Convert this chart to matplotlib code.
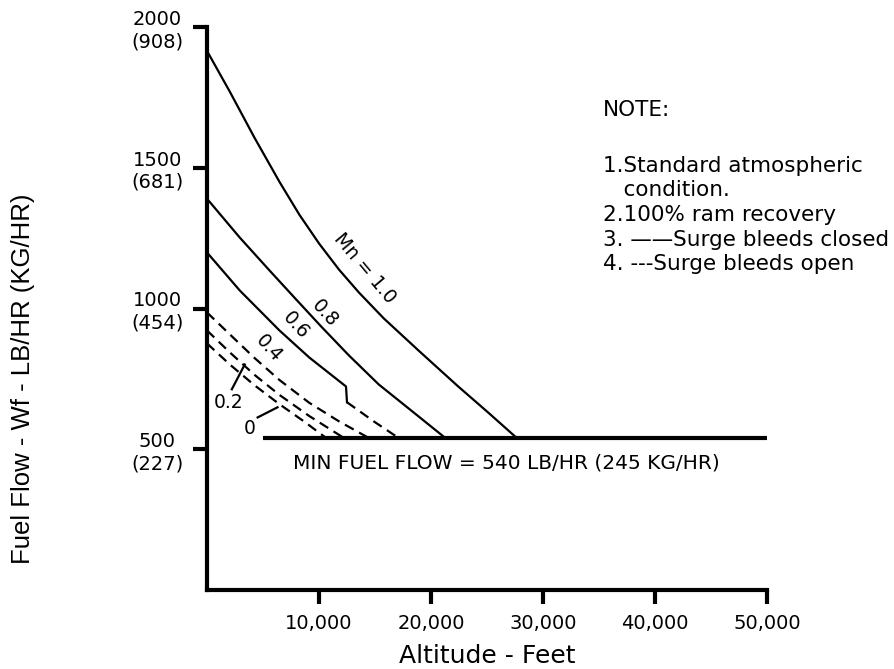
import matplotlib
matplotlib.use('Agg')
import matplotlib.pyplot as plt

# ---------------- data ----------------
# Solid lines: surge bleeds closed
alt_mn10 = [0, 2040, 4250, 6470, 8250, 10020, 11790, 13560, 15780, 18880, 22430, 25090, 27660]
wf_mn10 = [1915, 1770, 1606, 1450, 1333, 1230, 1138, 1057, 965, 851, 723, 631, 540]

alt_mn08 = [0, 2925, 5585, 7800, 10195, 12680, 15340, 18440, 21280]
wf_mn08 = [1390, 1252, 1135, 1039, 936, 833, 730, 631, 540]

alt_mn06_solid = [0, 2925, 6470, 9130, 12060, 12410, 12500]
wf_mn06_solid = [1199, 1064, 922, 826, 734, 723, 667]
alt_mn06_dash = [12500, 14890, 17110]
wf_mn06_dash = [667, 599, 540]

# Dashed lines: surge bleeds open
alt_mn04 = [0, 2040, 4250, 6470, 9130, 11790, 14450]
wf_mn04 = [986, 908, 824, 746, 665, 599, 540]

alt_mn02 = [0, 2040, 4250, 6470, 9130, 12230]
wf_mn02 = [922, 844, 764, 693, 618, 540]

alt_mn00 = [0, 2040, 4250, 6470, 8690, 10640]
wf_mn00 = [876, 801, 727, 660, 598, 540]

min_ff_alt = [5000, 50000]
min_ff_wf = [540, 540]

x_ticks = [10000, 20000, 30000, 40000, 50000]
x_ticklabels = ['10,000', '20,000', '30,000', '40,000', '50,000']
y_ticks = [500, 1000, 1500, 2000]
y_ticklabels = ['500\n(227)', '1000\n(454)', '1500\n(681)', '2000\n(908)']

notes = ['1.Standard atmospheric', '   condition.', '2.100% ram recovery',
         '3. \u2014\u2014Surge bleeds closed', '4. ---Surge bleeds open']

# ---------------- figure ----------------
W, H = 894, 669
fig = plt.figure(figsize=(W / 100, H / 100), dpi=100)
plt.rcParams['font.family'] = ['DejaVu Sans']

left, right, top, bottom = 207, 767, 27, 590
ax = fig.add_axes([left / W, 1 - bottom / H, (right - left) / W, (bottom - top) / H])
ax.set_xlim(0, 50000)
ax.set_ylim(0, 2000)

for s in ['top', 'right']:
    ax.spines[s].set_visible(False)
for s in ['left', 'bottom']:
    ax.spines[s].set_linewidth(3)

ax.set_xticks(x_ticks)
ax.set_xticklabels(x_ticklabels)
ax.set_yticks(y_ticks)
ax.set_yticklabels(y_ticklabels)
ax.tick_params(axis='both', length=10, width=3, direction='out',
               labelsize=14, pad=7, colors='black')
for lbl in ax.get_yticklabels():
    lbl.set_multialignment('center')

lw = 1.6
dash = (0, (4.5, 2.8))
ax.plot(alt_mn10, wf_mn10, color='black', lw=lw)
ax.plot(alt_mn08, wf_mn08, color='black', lw=lw)
ax.plot(alt_mn06_solid, wf_mn06_solid, color='black', lw=lw)
ax.plot(alt_mn06_dash, wf_mn06_dash, color='black', lw=lw, linestyle=dash)
ax.plot(alt_mn04, wf_mn04, color='black', lw=lw, linestyle=dash)
ax.plot(alt_mn02, wf_mn02, color='black', lw=lw, linestyle=dash)
ax.plot(alt_mn00, wf_mn00, color='black', lw=lw, linestyle=dash)
ax.plot(min_ff_alt, min_ff_wf, color='black', lw=3, solid_capstyle='butt')

# curve labels
lab_fs = 13.5
ax.text(14100, 1142, 'Mn = 1.0', rotation=-50, ha='center', va='center',
        fontsize=lab_fs, rotation_mode='anchor')
ax.text(10550, 982, '0.8', rotation=-48, ha='center', va='center',
        fontsize=lab_fs, rotation_mode='anchor')
ax.text(7890, 940, '0.6', rotation=-48, ha='center', va='center',
        fontsize=lab_fs, rotation_mode='anchor')
ax.text(5500, 858, '0.4', rotation=-48, ha='center', va='center',
        fontsize=lab_fs, rotation_mode='anchor')
ax.text(1950, 667, '0.2', ha='center', va='center', fontsize=lab_fs)
ax.text(3800, 574, '0', ha='center', va='center', fontsize=lab_fs)
ax.plot([2216, 3369], [713, 801], color='black', lw=lw)
ax.plot([4521, 6294], [613, 649], color='black', lw=lw)

ax.text(26700, 450, 'MIN FUEL FLOW = 540 LB/HR (245 KG/HR)', ha='center',
        va='center', fontsize=14.5)

ax.set_xlabel('Altitude - Feet', fontsize=18, labelpad=8)

fig.text(23 / W, 1 - 379 / H, 'Fuel Flow - Wf - LB/HR (KG/HR)', rotation=90,
         ha='center', va='center', fontsize=18.5, family='Liberation Sans')

# notes
note_fs = 15.5
fig.text(603 / W, 1 - 110 / H, 'NOTE:', ha='left', va='center', fontsize=note_fs)
note_y = [166, 190, 215, 240, 264]
for txt, yy in zip(notes, note_y):
    fig.text(603 / W, 1 - yy / H, txt, ha='left', va='center', fontsize=note_fs)

fig.savefig('out.png', dpi=100)
